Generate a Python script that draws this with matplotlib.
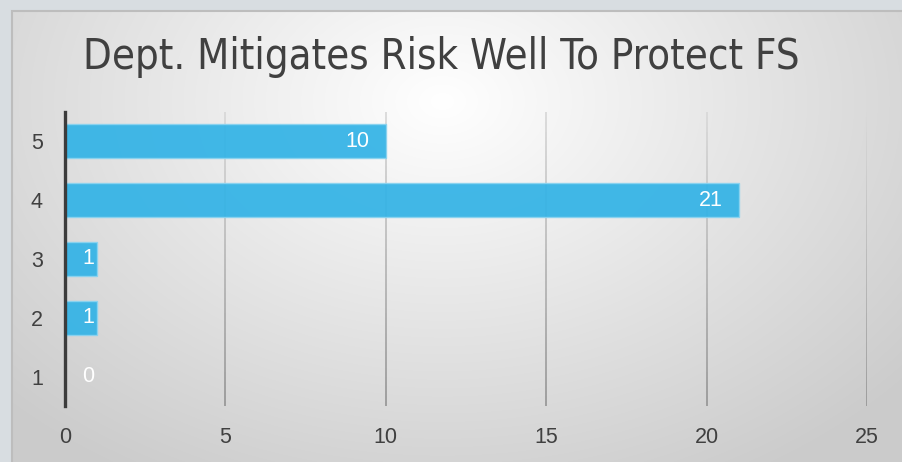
import numpy as np
import matplotlib
matplotlib.use("Agg")
import matplotlib.pyplot as plt
from matplotlib.collections import LineCollection
from matplotlib.patches import Rectangle
from matplotlib import font_manager

title = "Dept. Mitigates Risk Well To Protect FS"
categories = [1, 2, 3, 4, 5]
counts = [0, 1, 1, 21, 10]
x_ticks = [0, 5, 10, 15, 20, 25]

W, H = 903, 462
fig = plt.figure(figsize=(W / 100, H / 100), dpi=100)
fig.patch.set_facecolor('#D8DDE1')

tick_font = 'Liberation Sans'
condensed = [f.fname for f in font_manager.fontManager.ttflist
             if f.name == 'DejaVu Sans' and 'Condensed' in f.fname and 'Bold' not in f.fname
             and 'Oblique' not in f.fname]

# panel with radial gradient background
px0, py0 = 12, 11
bg = fig.add_axes([px0 / W, 0, 1 - px0 / W, 1 - py0 / H], zorder=-10)
yy, xx = np.mgrid[0:H - py0, 0:W - px0]
d = np.sqrt(((xx - 430) / 600.0) ** 2 + ((yy - 90) / 430.0) ** 2)
shade = np.clip(1.0 - 0.2 * d, 0.80, 1.0)
bg.imshow(np.dstack([shade, shade, shade]), aspect='auto', extent=(0, 1, 0, 1), origin='upper')
bg.set_xlim(0, 1)
bg.set_ylim(0, 1)
bg.axis('off')
fig.add_artist(Rectangle((px0 / W, -0.01), 1, 1 - py0 / H + 0.01, transform=fig.transFigure,
                         fill=False, ec='#BDBDBD', lw=1.5, zorder=-5))

ax = fig.add_axes([65 / W, 1 - 406 / H, (867 - 65) / W, (406 - 112) / H])
ax.patch.set_alpha(0)
ax.set_xlim(0, 25)
ax.set_ylim(0.5, 5.5)

# vertical gridlines, light at the top and darker toward the bottom
n = 60
ys = np.linspace(0.5, 5.5, n + 1)
for xv in x_ticks[1:]:
    segs = [[(xv, ys[i]), (xv, ys[i + 1])] for i in range(n)]
    t = np.linspace(0, 1, n)
    cols = [(0.60 + 0.25 * ti,) * 3 + (1.0,) for ti in t]
    ax.add_collection(LineCollection(segs, colors=cols, linewidths=1.3, zorder=1))

ax.barh(categories, counts, height=0.58, color='#33B3E6', alpha=0.93,
        edgecolor='#8AD3F0', linewidth=1.0, zorder=2)

for c, v in zip(categories, counts):
    if v >= 3:
        ax.annotate(str(v), xy=(v, c), xytext=(-16, 0), textcoords='offset pixels',
                    ha='right', va='center', color='white', fontsize=15.5,
                    family=tick_font, zorder=3)
    else:
        ax.annotate(str(v), xy=(0, c), xytext=(17, 0), textcoords='offset pixels',
                    ha='left', va='center', color='white', fontsize=15.5,
                    family=tick_font, zorder=3)

for s in ['top', 'right', 'bottom']:
    ax.spines[s].set_visible(False)
ax.spines['left'].set_color('#3C3C3C')
ax.spines['left'].set_linewidth(2.4)
ax.spines['left'].set_zorder(4)

ax.set_xticks(x_ticks)
ax.set_yticks(categories)
ax.tick_params(axis='both', length=0, labelsize=15.5, labelcolor='#404040')
ax.tick_params(axis='y', pad=16)
ax.tick_params(axis='x', pad=15)
for lab in ax.get_xticklabels() + ax.get_yticklabels():
    lab.set_family(tick_font)

if condensed:
    tprops = dict(fontproperties=font_manager.FontProperties(fname=condensed[0], size=30))
else:
    tprops = dict(family='Liberation Sans', fontsize=30.5)
fig.text(441 / W, 1 - 57 / H, title, ha='center', va='center',
         color='#404040', **tprops)

fig.savefig('out.png', dpi=100, facecolor=fig.get_facecolor())
